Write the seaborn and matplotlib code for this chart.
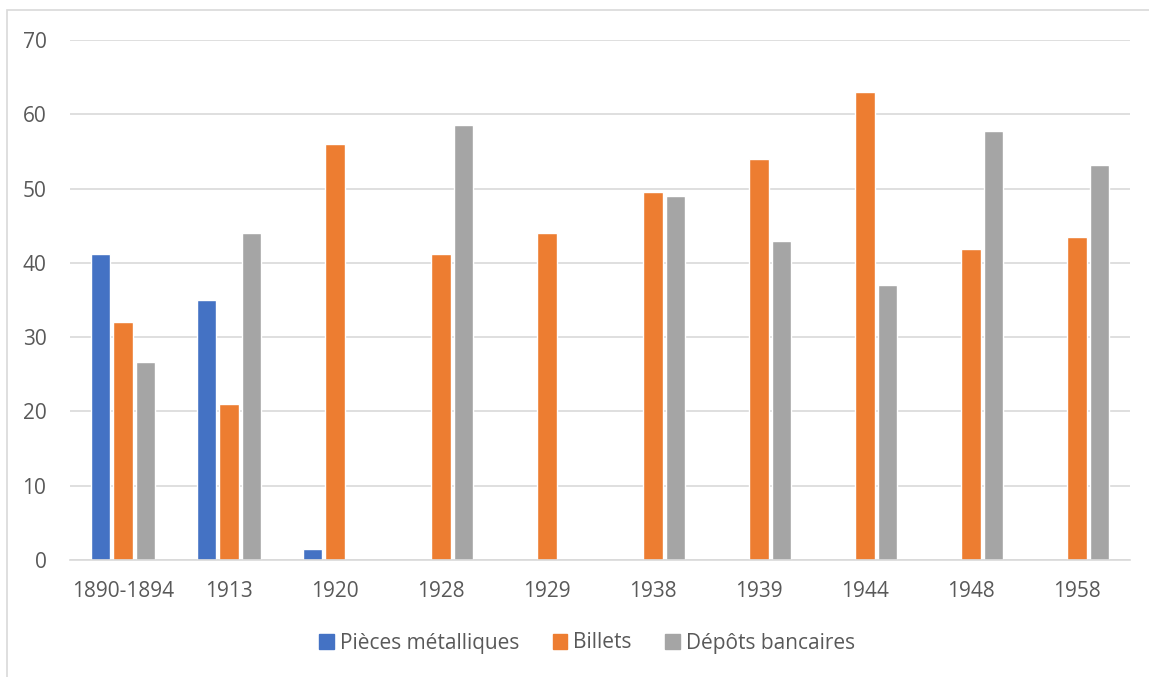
import matplotlib
matplotlib.use("Agg")
import matplotlib.pyplot as plt
import seaborn as sns
import pandas as pd
import numpy as np
from matplotlib.patches import Rectangle

categories = ["1890-1894", "1913", "1920", "1928", "1929", "1938", "1939", "1944", "1948", "1958"]
pieces = [41.2, 35.0, 1.5, np.nan, np.nan, np.nan, np.nan, np.nan, np.nan, np.nan]
billets = [32.1, 21.0, 56.0, 41.2, 44.0, 49.5, 54.0, 63.0, 41.8, 43.5]
depots = [26.7, 44.0, np.nan, 58.6, np.nan, 49.0, 43.0, 37.0, 57.8, 53.2]
series_names = ["Pièces métalliques", "Billets", "Dépôts bancaires"]
colors = ["#4472C4", "#ED7D31", "#A5A5A5"]

rows = []
for name, vals in zip(series_names, [pieces, billets, depots]):
    for c, v in zip(categories, vals):
        rows.append({"cat": c, "serie": name, "val": v})
df = pd.DataFrame(rows)

sns.set_theme(style="white")
plt.rcParams['font.family'] = ['Open Sans', 'DejaVu Sans']
text_color = "#595959"
fs = 15

fig = plt.figure(figsize=(11.49, 6.77), dpi=100)
ax = fig.add_axes([70/1149, 117/677, 1060/1149, 520/677])

sns.barplot(data=df, x="cat", y="val", hue="serie", order=categories,
            hue_order=series_names, palette=colors, width=0.65, gap=0.17,
            ax=ax, errorbar=None, saturation=1, legend=False)

ax.set_ylim(0, 70)
ax.set_xlim(-0.5, len(categories) - 0.5)
ax.set_yticks(range(0, 71, 10))
ax.yaxis.grid(True, color="#D9D9D9", linewidth=1.2)
ax.set_axisbelow(True)
for s in ["top", "right", "left"]:
    ax.spines[s].set_visible(False)
ax.spines["bottom"].set_color("#D9D9D9")
ax.spines["bottom"].set_linewidth(1.2)
ax.tick_params(axis="both", length=0, labelsize=fs, colors=text_color)
ax.tick_params(axis="x", pad=15)
ax.tick_params(axis="y", pad=17)
ax.set_xlabel("")
ax.set_ylabel("")

handles = [Rectangle((0, 0), 1, 1, color=c) for c in colors]
fig.legend(handles, series_names, loc="center", bbox_to_anchor=(0.511, 1 - 643/677),
           ncol=3, frameon=False, fontsize=fs, labelcolor=text_color,
           handlelength=0.7, handleheight=0.7, handletextpad=0.3, columnspacing=1.6)

fig.patches.append(Rectangle((7/1149, -0.05), 1.1, 1 - 10/677 + 0.05, transform=fig.transFigure,
                             fill=False, edgecolor="#D9D9D9", linewidth=1.2))

fig.savefig("out.png", dpi=100)
